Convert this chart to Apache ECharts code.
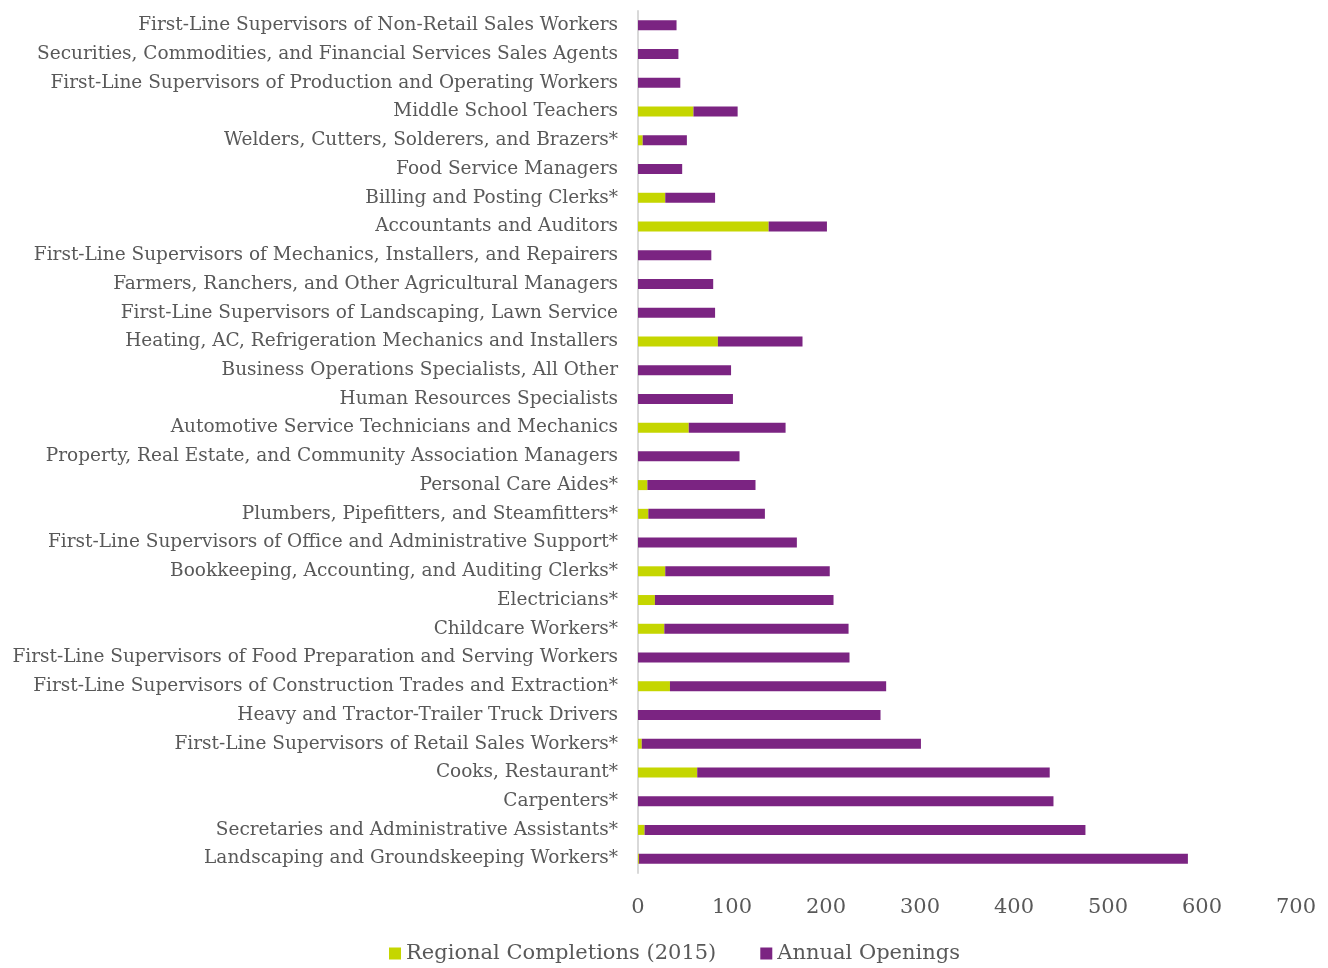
<!DOCTYPE html>
<html><head><meta charset="utf-8">
<script src="https://cdn.jsdelivr.net/npm/echarts@6/dist/echarts.min.js"></script>
<style>html,body{margin:0;padding:0;background:#fff}#c{width:1328px;height:968px}</style>
</head><body><div id="c"></div>
<script>
var categories = [
 "Landscaping and Groundskeeping Workers*",
 "Secretaries and Administrative Assistants*",
 "Carpenters*",
 "Cooks, Restaurant*",
 "First-Line Supervisors of Retail Sales Workers*",
 "Heavy and Tractor-Trailer Truck Drivers",
 "First-Line Supervisors of Construction Trades and Extraction*",
 "First-Line Supervisors of Food Preparation and Serving Workers",
 "Childcare Workers*",
 "Electricians*",
 "Bookkeeping, Accounting, and Auditing Clerks*",
 "First-Line Supervisors of Office and Administrative Support*",
 "Plumbers, Pipefitters, and Steamfitters*",
 "Personal Care Aides*",
 "Property, Real Estate, and Community Association Managers",
 "Automotive Service Technicians and Mechanics",
 "Human Resources Specialists",
 "Business Operations Specialists, All Other",
 "Heating, AC, Refrigeration Mechanics and Installers",
 "First-Line Supervisors of Landscaping, Lawn Service",
 "Farmers, Ranchers, and Other Agricultural Managers",
 "First-Line Supervisors of Mechanics, Installers, and Repairers",
 "Accountants and Auditors",
 "Billing and Posting Clerks*",
 "Food Service Managers",
 "Welders, Cutters, Solderers, and Brazers*",
 "Middle School Teachers",
 "First-Line Supervisors of Production and Operating Workers",
 "Securities, Commodities, and Financial Services Sales Agents",
 "First-Line Supervisors of Non-Retail Sales Workers"
];
var completions = [1, 7, 0, 63, 4, 0, 34, 0, 28, 18, 29, 0, 11, 10, 0, 54, 0, 0, 85, 0, 0, 0, 139, 29, 0, 5, 59, 0, 0, 0];
var openings    = [584, 469, 442, 375, 297, 258, 230, 225, 196, 190, 175, 169, 124, 115, 108, 103, 101, 99, 90, 82, 80, 78, 62, 53, 47, 47, 47, 45, 43, 41];
var xTicks = [0, 100, 200, 300, 400, 500, 600, 700];

var FONT = "DejaVu Serif";
var chart = echarts.init(document.getElementById('c'));
chart.setOption({
  animation: false,
  textStyle: {fontFamily: FONT},
  grid: {left: 638, right: 32, top: 11, bottom: 95, containLabel: false},
  legend: {
    top: 938, left: 384, itemWidth: 12, itemHeight: 12, itemGap: 44,
    icon: 'rect',
    textStyle: {fontFamily: FONT, fontSize: 21, color: '#595959'},
    data: ['Regional Completions (2015)', 'Annual Openings']
  },
  xAxis: {
    type: 'value', min: xTicks[0], max: xTicks[xTicks.length-1], interval: 100,
    axisLine: {show: false}, axisTick: {show: false}, splitLine: {show: false},
    axisLabel: {fontFamily: FONT, fontSize: 21, color: '#595959', margin: 24}
  },
  yAxis: {
    type: 'category', data: categories,
    axisLine: {show: true, lineStyle: {color: '#d9d9d9', width: 2}},
    axisTick: {show: false},
    axisLabel: {fontFamily: FONT, fontSize: 18.5, color: '#595959', margin: 20}
  },
  series: [
    {name: 'Regional Completions (2015)', type: 'bar', stack: 'a', data: completions,
     barWidth: 10, itemStyle: {color: '#c5d600'}},
    {name: 'Annual Openings', type: 'bar', stack: 'a', data: openings,
     barWidth: 10, itemStyle: {color: '#7b2482'}}
  ]
});
</script></body></html>
